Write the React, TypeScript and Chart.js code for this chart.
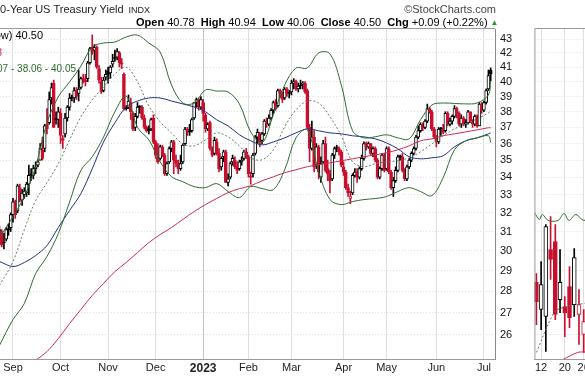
import React, { useEffect, useRef } from "react";
import { Chart, registerables } from "chart.js";

Chart.register(...registerables);

const FONT = '"Liberation Sans", Arial, Helvetica, sans-serif';

// ---- main chart: daily candles, first candle is trading day -6 (Sep 1, 2022 = day 0)
const FIRST_DAY = -6;
const opens = [
  30.6,31.0,30.4,30.6,31.1,31.2,31.9,32.6,32.1,33.4,
  32.7,33.0,33.1,33.6,34.2,34.1,34.5,34.7,35.0,35.6,
  35.7,37.2,37.3,38.9,39.9,37.5,37.5,37.9,36.3,36.6,
  37.6,38.3,38.9,38.9,39.4,39.2,39.6,40.2,40.1,40.2,
  41.3,42.4,42.2,42.4,40.9,40.0,39.4,40.3,40.7,40.6,
  41.2,41.6,41.7,42.0,41.2,40.5,38.2,38.3,38.6,37.9,
  37.0,37.7,38.3,38.3,37.6,37.0,36.9,36.9,37.6,36.1,
  35.2,35.1,35.8,35.3,34.2,34.9,35.7,36.1,35.0,34.8,
  34.5,34.9,36.0,36.9,36.7,36.8,37.6,38.6,38.8,38.3,
  38.6,37.8,36.9,37.3,35.7,35.4,36.1,35.4,34.6,35.2,
  35.5,33.7,34.0,34.9,35.0,34.6,34.5,34.9,35.1,35.5,
  35.2,34.0,34.2,35.4,36.4,36.6,36.2,36.6,37.4,37.2,
  37.6,38.1,38.6,38.4,39.4,39.2,38.9,39.5,39.2,39.3,
  39.9,40.0,39.5,39.7,39.8,39.9,39.4,37.0,35.7,36.4,
  34.7,35.8,34.0,34.9,36.0,34.5,34.2,33.9,35.3,35.7,
  35.7,35.5,34.6,34.3,33.4,32.8,33.1,34.1,34.3,34.0,
  34.5,35.1,36.0,35.8,36.0,35.4,35.7,35.0,34.0,34.5,
  35.3,34.5,35.7,34.3,33.4,33.8,34.4,35.2,35.2,34.4,
  33.9,34.6,35.0,35.4,35.7,36.4,36.8,37.2,37.0,37.4,
  38.2,38.0,36.9,36.4,36.1,36.9,36.9,36.8,37.9,37.2,
  37.4,37.7,38.2,37.9,37.2,37.6,37.2,37.3,38.0,37.4,
  37.2,37.7,37.1,38.5,38.1,38.6,39.5,40.78,
];
const highs = [
  31.3,31.1,30.9,31.2,31.4,32.0,32.8,32.7,33.6,33.6,
  33.3,33.4,33.7,34.7,34.5,34.7,34.9,35.0,36.0,36.4,
  37.2,38.2,39.3,39.9,40.1,38.0,38.3,38.2,36.5,37.9,
  38.4,39.2,39.1,39.6,39.6,40.8,40.3,40.5,40.5,41.4,
  42.4,43.3,42.6,42.5,41.1,40.3,40.3,40.8,41.0,41.1,
  41.9,42.2,42.3,42.1,41.6,40.6,38.4,39.1,38.9,38.0,
  37.9,38.6,38.4,38.4,37.8,37.1,37.1,37.6,37.8,36.2,
  36.0,35.9,35.9,35.4,34.9,35.8,36.2,36.2,35.3,35.0,
  35.3,36.0,37.0,37.0,37.2,37.6,38.6,38.9,38.9,39.0,
  38.8,37.9,37.3,37.4,35.8,36.4,36.3,35.7,35.2,35.6,
  35.6,34.2,34.9,35.3,35.2,34.9,35.0,35.2,35.6,35.7,
  35.3,34.3,35.4,36.5,36.9,36.7,36.7,37.5,37.6,37.8,
  38.2,38.7,38.8,39.5,39.5,39.3,39.6,39.6,39.4,40.1,
  40.2,40.1,39.9,40.1,40.0,40.0,39.5,37.2,37.4,36.8,
  36.0,35.9,35.2,36.2,36.4,35.0,34.4,35.4,35.8,35.9,
  35.8,35.6,34.9,34.4,33.6,33.2,34.2,34.5,34.5,34.6,
  35.3,36.1,36.1,36.1,36.0,35.8,35.8,35.1,34.6,35.4,
  35.4,35.8,35.8,34.4,34.0,34.6,35.3,35.3,35.4,34.5,
  34.7,35.1,35.5,35.8,36.5,37.1,37.3,37.3,37.5,38.5,
  38.3,38.1,37.0,36.5,37.0,37.0,37.2,38.0,38.0,37.6,
  37.8,38.4,38.3,38.0,37.8,37.7,37.5,38.1,38.0,37.5,
  37.8,37.8,38.6,38.6,38.7,39.5,40.8,40.94,
];
const lows = [
  30.5,30.2,30.1,30.5,30.8,31.0,31.5,31.7,32.0,32.6,
  32.4,32.8,32.9,33.0,33.8,33.9,34.2,34.6,35.0,35.0,
  35.5,36.6,37.2,38.5,37.0,37.2,37.0,36.0,35.7,36.4,
  37.4,38.1,38.7,38.6,38.8,38.7,39.5,39.9,39.7,40.0,
  41.2,41.9,41.5,40.9,39.9,39.2,39.3,40.1,39.9,40.2,
  41.0,41.4,41.5,41.0,40.9,38.1,38.1,38.2,37.5,36.8,
  36.8,37.6,37.9,37.5,36.9,36.7,36.6,36.8,36.0,35.1,
  34.8,35.0,35.2,34.1,34.1,34.8,35.5,34.2,34.6,34.2,
  34.4,34.8,35.9,36.5,36.5,36.7,37.5,38.3,38.1,38.2,
  37.4,36.7,36.8,35.6,35.2,35.3,35.3,34.3,34.4,34.9,
  33.7,33.5,33.9,34.7,34.5,34.2,34.4,34.7,35.0,35.1,
  34.0,33.6,34.0,35.3,36.0,35.8,36.0,36.5,37.0,37.1,
  37.5,37.9,38.1,38.3,38.9,38.6,38.8,39.0,38.9,39.1,
  39.5,39.4,39.3,39.5,39.5,39.2,36.9,34.9,35.6,34.3,
  34.5,33.9,33.7,34.8,34.3,33.8,33.1,33.8,35.1,35.5,
  35.3,34.6,34.1,33.3,32.9,32.5,33.0,34.0,33.7,33.9,
  34.4,35.0,35.6,35.7,35.3,35.2,34.9,33.9,33.9,34.4,
  34.3,34.4,34.2,33.3,32.9,33.7,34.3,35.0,34.3,33.8,
  33.8,34.5,34.9,35.3,35.6,36.3,36.7,36.8,36.9,37.3,
  37.9,36.8,36.3,35.8,36.0,36.5,36.6,36.7,37.1,37.1,
  37.2,37.6,37.6,37.1,37.0,37.1,37.0,37.2,37.3,37.0,
  37.1,37.0,37.1,37.9,38.0,38.5,39.4,40.06,
];
const closes = [
  31.1,30.3,30.4,31.1,31.1,31.9,32.6,31.9,33.5,32.7,
  33.1,33.2,33.6,34.1,34.1,34.5,34.5,34.9,35.7,35.1,
  37.1,36.9,38.8,39.6,37.0,37.5,38.0,36.5,36.2,37.6,
  38.3,38.9,38.9,39.4,39.0,39.5,40.2,40.1,40.0,41.3,
  42.3,42.1,42.4,41.0,40.1,39.3,40.1,40.5,40.5,41.0,
  41.4,41.6,42.1,41.3,41.2,38.2,38.2,38.7,38.0,36.9,
  37.7,38.3,38.3,37.6,37.0,36.8,36.8,37.5,36.1,35.3,
  34.9,35.8,35.3,34.2,34.8,35.7,36.1,35.0,34.8,34.5,
  34.8,35.9,36.9,36.7,36.7,37.5,38.6,38.8,38.3,38.8,
  37.9,36.9,37.2,35.7,35.3,36.2,35.4,34.5,35.1,35.5,
  33.7,33.9,34.8,35.1,34.6,34.4,34.9,35.0,35.5,35.2,
  34.2,34.0,35.3,36.4,36.7,36.1,36.6,37.4,37.2,37.6,
  38.1,38.6,38.2,39.4,39.2,38.8,39.5,39.2,39.2,39.9,
  40.0,39.5,39.7,39.7,39.9,39.3,37.0,35.7,36.4,34.6,
  35.8,34.3,34.8,36.0,34.4,34.2,33.8,35.3,35.7,35.7,
  35.5,34.7,34.3,33.4,33.1,32.9,34.1,34.3,34.0,34.5,
  35.1,36.0,35.8,36.0,35.4,35.7,35.0,34.0,34.5,35.3,
  34.4,35.7,34.3,33.4,33.8,34.4,35.2,35.2,34.4,33.9,
  34.6,35.0,35.4,35.7,36.4,36.8,37.2,37.0,37.4,38.2,
  38.0,36.9,36.4,36.1,36.9,36.9,36.7,37.9,37.2,37.4,
  37.7,38.2,37.9,37.2,37.6,37.2,37.3,38.0,37.4,37.2,
  37.7,37.1,38.5,38.1,38.6,39.4,40.41,40.50,
];

// month labels (trading-day index of the first session of each month)
const monthIdx = [0, 21, 42, 63, 84, 104, 123, 146, 165, 187, 208];
const monthLbl = ["Sep", "Oct", "Nov", "Dec", "2023", "Feb", "Mar", "Apr", "May", "Jun", "Jul"];
const yTicks = [26, 27, 28, 29, 30, 31, 32, 33, 34, 35, 36, 37, 38, 39, 40, 41, 42, 43];

// overlays at these trading-day indexes
const lineIdx = [-6, 0, 5, 10, 15, 20, 25, 30, 35, 40, 45, 50, 55, 60, 65, 70, 75, 80, 85, 90, 95, 100,
  105, 110, 115, 120, 125, 130, 135, 140, 145, 150, 155, 160, 165, 170, 175, 180, 185, 190, 195, 200, 205, 210, 211];
const bbUpper = [30.68, 31.8, 32.9, 34.61, 37.29, 38.97, 39.98, 41.07, 42.42, 42.71, 42.78, 43.15, 43.29, 42.71, 42.06,
  39.77, 38.57, 38.57, 39.43, 39.36, 39.3, 38.51, 36.72, 36.04, 37.8, 39.77, 40.93, 40.93, 42.0, 41.93, 39.77,
  36.79, 36.35, 36.42, 36.54, 36.35, 36.29, 37.48, 38.44, 38.57, 38.54, 38.51, 38.57, 39.1, 40.05];
const bbMid = [28.28, 29.46, 31.1, 32.67, 33.68, 34.79, 36.23, 37.67, 38.77, 39.63, 40.52, 41.0, 39.97, 38.38, 37.35,
  36.66, 35.98, 35.86, 36.23, 36.66, 36.41, 35.86, 35.14, 35.02, 35.62, 37.04, 38.12, 38.7, 38.57, 37.67, 36.48,
  34.9, 34.61, 34.79, 34.9, 34.96, 35.14, 35.5, 35.98, 36.48, 36.91, 37.23, 37.54, 37.93, 38.06];
const bbLower = [25.54, 26.69, 27.43, 28.86, 29.71, 30.89, 32.6, 34.4, 35.2, 36.4, 38.0, 39.03, 37.0, 36.23, 34.9,
  34.03, 33.74, 33.46, 33.4, 33.63, 33.18, 32.84, 33.46, 33.35, 33.29, 34.43, 36.35, 36.85, 34.31, 32.73, 32.45,
  32.62, 32.73, 32.79, 32.9, 33.18, 33.4, 33.18, 32.95, 33.97, 35.62, 36.17, 36.35, 36.48, 36.07];
const ma50 = [29.46, 29.21, 29.41, 29.76, 30.27, 31.21, 32.13, 33.07, 34.49, 36.1, 37.29, 38.31, 38.7, 38.9, 38.9,
  38.7, 38.51, 38.31, 38.0, 37.48, 37.1, 36.54, 36.17, 35.92, 36.1, 36.35, 36.66, 36.91, 36.79, 36.66, 36.6,
  36.48, 36.41, 36.29, 36.04, 35.68, 35.2, 35.08, 35.14, 35.26, 35.8, 36.17, 36.35, 36.6, 36.66];
const ma200 = [null, null, null, 24.9, 25.28, 25.84, 26.51, 27.15, 27.81, 28.38, 28.96, 29.41, 29.91, 30.42, 30.84,
  31.21, 31.64, 32.07, 32.45, 32.79, 33.12, 33.34, 33.51, 33.79, 34.02, 34.26, 34.43, 34.61, 34.73, 34.84, 34.96,
  35.08, 35.2, 35.32, 35.44, 35.62, 35.86, 36.17, 36.29, 36.48, 36.6, 36.72, 36.85, 36.98, 36.98];

// ---- small right-hand panel (cut off by the window)
const pDay = [0, 1, 2, 3, 4, 5, 6, 7, 8, 9, 10];
const pOpen = [28.43, 27.15, 26.83, 30.06, 30.48, 27.61, 27.29, 28.23, 27.38, 26.92, 26.02];
const pHigh = [28.86, 29.46, 31.37, 31.8, 31.37, 30.06, 27.76, 29.21, 30.11, 28.09, 27.15];
const pLow = [26.46, 26.24, 25.28, 28.57, 26.69, 27.01, 25.93, 26.33, 26.83, 25.59, 25.24];
const pClose = [27.52, 28.33, 31.26, 29.56, 26.92, 28.43, 27.01, 26.78, 29.66, 27.38, 26.6];
const pTickIdx = [1, 6, 10];
const pTickLbl = ["12", "20", "26"];
const pBandIdx = [-0.42, 0.63, 1.25, 2.5, 4.58, 5.83, 6.88, 8.33, 10, 11.5];
const pBand = [32.02, 31.64, 31.91, 31.59, 31.59, 31.96, 31.59, 31.91, 31.59, 31.8];
const pMidIdx = [0, 3.75, 5.6, 10.4];
const pMid = [25.24, 27.01, 27.24, 27.45];
const pMaIdx = [5.6, 8.75, 10.4];
const pMa = [24.94, 25.24, 25.26];

const Y_MIN = 24.96;
const Y_MAX = 43.74;
const RED = "#c8102e";
const GREEN = "#2e6b2e";
const BLUE = "#23307e";
const MA_RED = "#d0284f";
const GRID = "#dedede";

function candleSets(days: number[], o: number[], h: number[], l: number[], c: number[], body: number) {
  const col = days.map((_, k) => {
    const prev = k === 0 ? o[0] : c[k - 1];
    return c[k] >= prev ? "#000000" : RED;
  });
  const fill = days.map((_, k) => (c[k] > o[k] ? "#ffffff" : col[k]));
  return [
    {
      type: "bar",
      data: days.map((x, k) => ({ x, y: [l[k], h[k]] })),
      backgroundColor: col,
      borderWidth: 0,
      barThickness: 1,
      grouped: false,
      order: 3,
    },
    {
      type: "bar",
      data: days.map((x, k) => ({ x, y: [Math.min(o[k], c[k]), Math.max(o[k], c[k])] })),
      backgroundColor: fill,
      borderColor: col,
      borderWidth: 1,
      borderSkipped: false,
      barThickness: body,
      minBarLength: 1,
      grouped: false,
      order: 2,
    },
  ];
}

function lineSet(idx: number[], vals: (number | null)[], color: string, dash?: number[]) {
  return {
    type: "line",
    data: idx.map((x, k) => ({ x, y: vals[k] })),
    borderColor: color,
    borderWidth: 1,
    borderDash: dash || [],
    pointRadius: 0,
    tension: 0.35,
    fill: false,
    order: 1,
  };
}

const mainText = {
  id: "mainText",
  afterDraw(chart: any) {
    const { ctx, chartArea: a } = chart;
    ctx.save();
    ctx.strokeStyle = "#9a9a9a";
    ctx.lineWidth = 1;
    ctx.beginPath();
    ctx.moveTo(0, a.top - 0.5);
    ctx.lineTo(a.right, a.top - 0.5);
    ctx.stroke();

    ctx.textBaseline = "alphabetic";
    ctx.textAlign = "left";
    ctx.fillStyle = "#222";
    ctx.font = `11px ${FONT}`;
    ctx.fillText("10-Year US Treasury Yield", -6, 13);
    const tw = ctx.measureText("10-Year US Treasury Yield").width;
    ctx.font = `9px ${FONT}`;
    ctx.fillText("INDX", -6 + tw + 5, 13);

    ctx.textAlign = "right";
    ctx.fillStyle = "#444";
    ctx.font = `11px ${FONT}`;
    ctx.fillText("\u00A9StockCharts.com", 496, 13);

    // header
    const parts: [string, boolean][] = [
      ["Open", true], [" 40.78  ", false], ["High", true], [" 40.94  ", false], ["Low", true],
      [" 40.06  ", false], ["Close", true], [" 40.50  ", false], ["Chg", true], [" +0.09 (+0.22%) ", false],
    ];
    ctx.textAlign = "left";
    ctx.fillStyle = "#000";
    let x = 136;
    for (const [t, b] of parts) {
      ctx.font = `${b ? "bold " : ""}11px ${FONT}`;
      ctx.fillText(t, x, 26);
      x += ctx.measureText(t).width;
    }
    ctx.fillStyle = "#2a9a2a";
    ctx.font = `8px ${FONT}`;
    ctx.fillText("\u25B2", x, 25);

    // legend (cut off by the left edge)
    ctx.textAlign = "right";
    ctx.font = `11px ${FONT}`;
    ctx.fillStyle = "#000";
    ctx.fillText("$TNX (Now) 40.50", 43, 39);
    ctx.fillStyle = MA_RED;
    ctx.fillText("MA(200) 36.98", 2, 56);
    ctx.fillStyle = GREEN;
    ctx.font = `10px ${FONT}`;
    ctx.fillText("BB(20,2.0) 36.07 - 38.06 - 40.05", 76, 72);
    ctx.restore();
  },
};

const sideFrame = {
  id: "sideFrame",
  afterDraw(chart: any) {
    const { ctx, chartArea: a } = chart;
    ctx.save();
    ctx.strokeStyle = "#9a9a9a";
    ctx.lineWidth = 1;
    ctx.beginPath();
    ctx.moveTo(a.left + 0.5, a.bottom);
    ctx.lineTo(a.left + 0.5, a.top - 0.5);
    ctx.lineTo(a.right, a.top - 0.5);
    ctx.stroke();
    ctx.restore();
  },
};

function yScale(showLabels: boolean) {
  return {
    type: "logarithmic",
    position: "right",
    min: Y_MIN,
    max: Y_MAX,
    beginAtZero: false,
    afterBuildTicks: (s: any) => {
      s.ticks = yTicks.map((v) => ({ value: v }));
    },
    afterFit: (s: any) => {
      s.width = showLabels ? 35 : 0;
    },
    ticks: {
      display: showLabels,
      padding: 5,
      color: "#111",
      font: { family: FONT, size: 11 },
      callback: (v: any) => String(v),
    },
    grid: { color: GRID, drawTicks: false },
    border: { display: showLabels, color: "#8a8a8a", dash: [1, 2] },
  };
}

export default function App() {
  const mainRef = useRef<HTMLCanvasElement>(null);
  const sideRef = useRef<HTMLCanvasElement>(null);

  useEffect(() => {
    const days = opens.map((_, k) => FIRST_DAY + k);
    const main = new Chart(mainRef.current as any, {
      type: "bar",
      data: {
        datasets: [
          ...candleSets(days, opens, highs, lows, closes, 3),
          lineSet(lineIdx, bbUpper, GREEN),
          lineSet(lineIdx, bbLower, GREEN),
          lineSet(lineIdx, bbMid, "#5f7f5f", [2, 2]),
          lineSet(lineIdx, ma50, BLUE),
          lineSet(lineIdx, ma200, MA_RED),
        ] as any,
      },
      options: {
        responsive: false,
        animation: false,
        devicePixelRatio: 1,
        layout: { padding: { top: 29, left: 0, right: 0, bottom: 0 } },
        plugins: { legend: { display: false }, tooltip: { enabled: false } },
        scales: {
          x: {
            type: "linear",
            min: -5.74,
            max: 212.9,
            offset: false,
            afterBuildTicks: (s: any) => {
              s.ticks = monthIdx.map((v) => ({ value: v }));
            },
            afterFit: (s: any) => {
              s.height = 17;
            },
            ticks: {
              autoSkip: false,
              maxRotation: 0,
              padding: 2,
              color: "#222",
              font: (c: any) => ({
                family: FONT,
                size: c.tick && c.tick.label === "2023" ? 12 : 11,
                weight: c.tick && c.tick.label === "2023" ? "bold" : "normal",
              }),
              callback: (v: any) => {
                const k = monthIdx.indexOf(v);
                return k >= 0 ? monthLbl[k] : "";
              },
            },
            grid: {
              offset: false,
              drawTicks: false,
              color: (c: any) => (c.tick && c.tick.label === "2023" ? "#c4c4c4" : GRID),
            },
            border: { display: true, color: "#9a9a9a" },
          },
          y: yScale(true),
        } as any,
      },
      plugins: [mainText],
    } as any);

    const side = new Chart(sideRef.current as any, {
      type: "bar",
      data: {
        datasets: [
          ...candleSets(pDay, pOpen, pHigh, pLow, pClose, 4),
          lineSet(pBandIdx, pBand, GREEN),
          lineSet(pMidIdx, pMid, "#5f7f5f", [2, 2]),
          lineSet(pMaIdx, pMa, MA_RED),
        ] as any,
      },
      options: {
        responsive: false,
        animation: false,
        devicePixelRatio: 1,
        layout: { padding: { top: 29, left: 0, right: 0, bottom: 0 } },
        plugins: { legend: { display: false }, tooltip: { enabled: false } },
        scales: {
          x: {
            type: "linear",
            min: -0.4167,
            max: 20.42,
            offset: false,
            afterBuildTicks: (s: any) => {
              s.ticks = pTickIdx.map((v) => ({ value: v }));
            },
            afterFit: (s: any) => {
              s.height = 17;
            },
            ticks: {
              autoSkip: false,
              maxRotation: 0,
              padding: 2,
              color: "#222",
              font: { family: FONT, size: 11 },
              callback: (v: any) => {
                const k = pTickIdx.indexOf(v);
                return k >= 0 ? pTickLbl[k] : "";
              },
            },
            grid: { offset: false, drawTicks: false, color: GRID },
            border: { display: true, color: "#9a9a9a" },
          },
          y: yScale(false),
        } as any,
      },
      plugins: [sideFrame],
    } as any);

    return () => {
      main.destroy();
      side.destroy();
    };
  }, []);

  return (
    <div
      style={{
        position: "fixed",
        left: 0,
        top: 0,
        width: 585,
        height: 376,
        overflow: "hidden",
        background: "#ffffff",
      }}
    >
      <canvas ref={mainRef} width={530} height={376} style={{ position: "absolute", left: 0, top: 0 }} />
      <canvas ref={sideRef} width={100} height={376} style={{ position: "absolute", left: 533, top: 0 }} />
    </div>
  );
}
